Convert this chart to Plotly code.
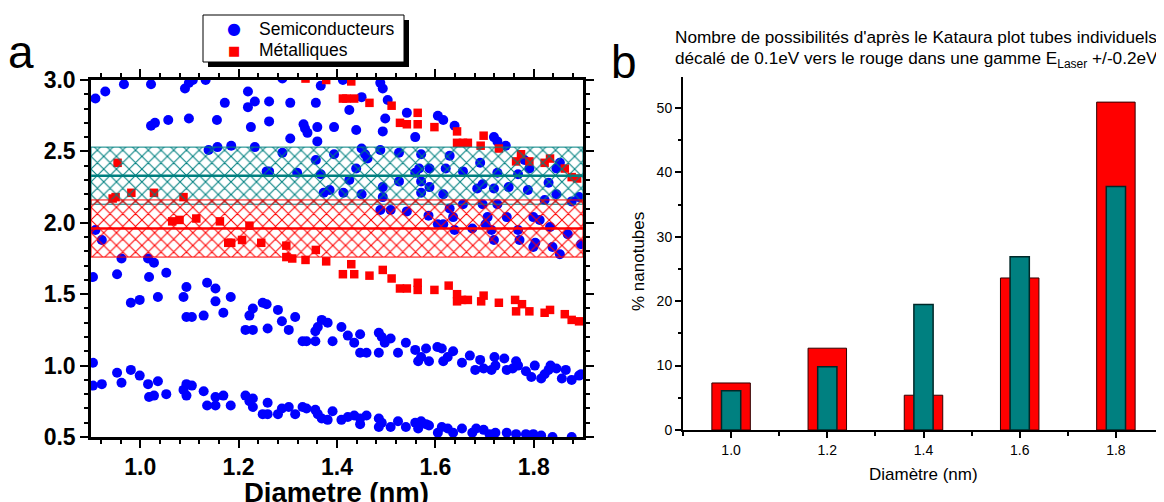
import plotly.graph_objects as go

W, H = 1164, 502
OFF = 8  # page body margin of the html page

# ---------------- Panel a : Kataura plot ----------------
# upper semiconducting transitions (E33/E44 region)
semi_up_d = [0.909,0.929,0.967,1.022,1.091,1.099,1.107,1.133,1.289,1.367,1.412,1.488,1.493,
             1.022,1.030,1.057,1.099,1.156,1.172,1.219,1.219,1.233,1.225,1.262,1.262,1.305,1.305,1.332,1.335,1.340,1.357,1.360,1.360,1.394,1.425,1.439,1.450,1.503,1.498,1.493,1.542,1.559,1.605,1.616,1.639,1.719,1.726,1.743,
             1.139,1.157,1.185,1.233,1.289,1.257,1.262,1.319,1.357,1.367,1.373,1.385,1.394,1.413,1.425,1.439,1.450,1.457,1.462,1.450,1.488,1.493,1.493,1.488,1.509,1.526,1.526,1.542,1.559,1.567,1.571,1.571,1.571,1.588,1.588,1.586,1.605,1.616,1.629,1.621,1.616,1.629,1.636,1.639,1.656,1.656,1.675,1.685,1.691,1.696,1.702,1.706,1.696,1.714,1.719,1.719,1.726,1.726,1.745,1.749,1.768,1.771,1.781,1.788,1.791,1.799,1.803,1.812,1.822,1.833,1.838,1.846,1.846,1.853,1.869,1.877,1.892,1.896,1.830,1.768,1.799,1.853,
             0.909,0.922]
semi_up_E = [2.87,2.92,2.97,2.97,2.94,2.98,3.0,3.0,3.01,2.96,3.0,2.98,2.94,
             2.68,2.70,2.72,2.73,2.72,2.84,2.92,2.81,2.85,2.67,2.85,2.71,2.84,2.59,2.69,2.66,2.63,2.84,2.67,2.57,2.67,2.79,2.65,2.88,2.86,2.73,2.64,2.77,2.60,2.75,2.72,2.68,2.60,2.57,2.54,
             2.51,2.53,2.54,2.53,2.49,2.36,2.36,2.35,2.44,2.34,2.21,2.23,2.48,2.21,2.30,2.38,2.52,2.48,2.45,2.20,2.51,2.25,2.18,2.09,2.09,2.49,2.29,2.08,2.35,2.38,2.29,2.21,2.48,2.38,2.25,2.05,1.99,1.99,2.47,2.38,2.20,2.10,2.04,1.95,2.36,2.13,1.96,2.24,2.42,2.27,1.99,2.04,2.13,1.95,1.88,2.24,2.13,2.35,2.04,2.25,1.95,1.88,2.44,2.23,2.38,2.04,1.86,2.02,2.16,1.97,1.83,2.20,2.38,2.42,1.92,2.15,2.18,1.85,2.28,2.34,1.83,1.78,
             1.95,1.88]

# E22 semiconducting branch
semi_mid_d = [0.904,0.953,0.962,0.981,0.999,1.016,1.018,1.028,1.036,1.053,
              1.088,1.094,1.094,1.105,1.129,1.136,1.153,1.153,1.169,1.184,
              1.214,1.222,1.229,1.229,1.249,1.257,1.259,1.280,1.288,1.302,
              1.315,1.330,1.338,1.356,1.356,1.361,1.369,1.381,1.391,1.409,
              1.422,1.435,1.447,1.447,1.460,1.485,1.485,1.491,1.497,1.509,
              1.524,1.540,1.559,1.565,1.571,1.581,1.587,1.604,1.613,1.616,
              1.625,1.636,1.654,1.670,1.681,1.691,1.698,1.714,1.720,1.722,
              1.740,1.745,1.757,1.764,1.768,1.784,1.795,1.802,1.815,1.822,
              1.830,1.834,1.846,1.857,1.865,1.877,1.892,1.896]
semi_mid_E = [1.62,1.64,1.75,1.44,1.46,1.75,1.62,1.72,1.48,1.65,
              1.48,1.55,1.34,1.34,1.35,1.58,1.54,1.45,1.37,1.48,
              1.25,1.35,1.40,1.25,1.44,1.43,1.26,1.39,1.31,1.25,
              1.34,1.17,1.17,1.24,1.17,1.27,1.32,1.30,1.17,1.27,
              1.21,1.16,1.22,1.09,1.09,1.23,1.09,1.20,1.16,1.19,
              1.09,1.16,1.11,1.03,1.06,1.12,1.03,1.13,1.12,1.03,
              1.06,1.10,1.02,1.07,0.97,1.04,0.98,0.97,1.06,1.00,
              1.05,0.97,0.98,1.03,1.00,0.96,0.92,1.00,0.91,0.94,
              0.97,1.00,0.98,0.91,0.97,0.90,0.93,0.94]

# E11 semiconducting branch
semi_low_d = [0.904,0.904,0.922,0.953,0.962,0.981,0.999,1.016,1.018,1.028,
              1.036,1.053,1.088,1.094,1.094,1.105,1.129,1.136,1.153,1.153,
              1.169,1.184,1.214,1.222,1.229,1.229,1.249,1.259,1.259,1.280,
              1.288,1.302,1.315,1.330,1.338,1.356,1.361,1.369,1.381,1.391,
              1.409,1.422,1.435,1.447,1.447,1.460,1.485,1.485,1.491,1.509,
              1.524,1.540,1.559,1.565,1.571,1.581,1.587,1.605,1.613,1.625,
              1.636,1.654,1.675,1.683,1.698,1.710,1.722,1.745,1.764,1.784,
              1.799,1.815,1.838,1.877]
semi_low_E = [0.86,1.02,0.87,0.95,0.88,0.97,0.93,0.87,0.78,0.79,
              0.89,0.80,0.83,0.87,0.79,0.86,0.82,0.72,0.72,0.78,
              0.79,0.72,0.79,0.75,0.77,0.71,0.66,0.74,0.66,0.66,
              0.70,0.71,0.66,0.71,0.70,0.69,0.66,0.63,0.62,0.68,
              0.62,0.64,0.65,0.63,0.59,0.65,0.63,0.57,0.60,0.57,
              0.61,0.57,0.60,0.56,0.61,0.59,0.58,0.53,0.57,0.56,
              0.53,0.56,0.53,0.56,0.55,0.52,0.53,0.53,0.52,0.52,
              0.52,0.51,0.50,0.50]

# metallic M11 (upper and lower sub-branches)
metal_up_d = [0.954,0.944,0.950,0.982,1.028,1.088,1.065,1.080,1.114,1.162,
              1.179,1.185,1.207,1.222,1.246,1.297,1.357,1.336,1.378,1.429,
              1.412,1.419,1.435,1.466,1.511,1.528,1.542,1.564,1.564,1.598,
              1.644,1.644,1.656,1.666,1.692,1.698,1.729,1.764,1.774,1.791,
              1.822,1.833,1.863,1.877,1.888]
metal_up_E = [2.42,2.17,2.18,2.21,2.21,2.18,2.01,2.02,2.03,2.01,
              1.86,1.86,1.88,1.98,1.86,1.84,1.81,3.01,3.0,2.99,
              2.87,2.87,2.87,2.84,2.82,2.70,2.69,2.77,2.69,2.67,
              2.64,2.56,2.56,2.56,2.54,2.61,2.52,2.43,2.48,2.43,
              2.42,2.45,2.38,2.32,2.31]
metal_low_d = [1.297,1.309,1.336,1.378,1.412,1.429,1.435,1.466,1.493,1.511,
               1.528,1.542,1.564,1.564,1.598,1.627,1.644,1.644,1.654,1.666,
               1.693,1.698,1.729,1.762,1.764,1.776,1.791,1.822,1.833,1.863,
               1.877,1.892]
metal_low_E = [1.76,1.75,1.74,1.73,1.64,1.71,1.64,1.63,1.67,1.61,
               1.54,1.54,1.58,1.53,1.53,1.56,1.50,1.45,1.46,1.46,
               1.45,1.49,1.44,1.46,1.38,1.43,1.38,1.37,1.39,1.36,
               1.32,1.31]

# laser windows (centre energy, eV) and half-width
laser_E = [2.33, 1.96]
window_half = 0.2
diam_range_a = [0.9, 1.9]
energy_range_a = [0.5, 3.0]
legend_names = ["Semiconducteurs", "Métalliques"]

# ---------------- Panel b : bar chart ----------------
diam_b = [1.0, 1.2, 1.4, 1.6, 1.8]
pct_red = [7.3, 12.7, 5.4, 23.6, 50.9]
pct_teal = [6.1, 9.8, 19.5, 26.9, 37.8]
diam_range_b = [0.9, 1.9]
pct_range_b = [0, 54.8]

# ---------------- styling ----------------
FONT = "Liberation Sans, Arial, sans-serif"
BLUE = "#0000FF"
RED = "#FF0000"
TEAL = "#008080"
band_colors = [TEAL, RED]


def px(x):
    return (x - OFF) / W


def py(y):
    return 1 - (y - OFF) / H


fig = go.Figure()

semi_d = semi_up_d + semi_mid_d + semi_low_d
semi_E = semi_up_E + semi_mid_E + semi_low_E
metal_d = metal_up_d + metal_low_d
metal_E = metal_up_E + metal_low_E

fig.add_trace(go.Scatter(x=semi_d, y=semi_E, mode="markers", name=legend_names[0],
                         marker=dict(symbol="circle", size=10, color=BLUE, line=dict(width=0)),
                         xaxis="x", yaxis="y", showlegend=False))
fig.add_trace(go.Scatter(x=metal_d, y=metal_E, mode="markers", name=legend_names[1],
                         marker=dict(symbol="square", size=8.5, color=RED, line=dict(width=0)),
                         xaxis="x", yaxis="y", showlegend=False))

# laser windows drawn on an overlaid subplot so that the hatching lies over the points
x0, x1 = diam_range_a
for E, col in zip(laser_E, band_colors):
    lo, hi = E - window_half, E + window_half
    fig.add_trace(go.Scatter(x=[x0, x1, x1, x0, x0], y=[lo, lo, hi, hi, lo], mode="lines",
                             fill="toself", fillcolor="rgba(0,0,0,0)",
                             fillpattern=dict(shape="x", fgcolor=col, bgcolor="rgba(0,0,0,0)",
                                              fgopacity=1, size=9, solidity=0.22),
                             line=dict(color=col, width=1), showlegend=False,
                             hoverinfo="skip", xaxis="x3", yaxis="y3"))
for E, col in zip(laser_E, band_colors):
    fig.add_trace(go.Scatter(x=[x0, x1], y=[E, E], mode="lines",
                             line=dict(color=col, width=2.5), showlegend=False,
                             hoverinfo="skip", xaxis="x3", yaxis="y3"))

# panel b bars
fig.add_trace(go.Bar(x=diam_b, y=pct_red, width=0.08, marker=dict(color=RED, line=dict(color="#300000", width=1)),
                     showlegend=False, xaxis="x2", yaxis="y2"))
fig.add_trace(go.Bar(x=diam_b, y=pct_teal, width=0.04, marker=dict(color=TEAL, line=dict(color="#002828", width=1.5)),
                     showlegend=False, xaxis="x2", yaxis="y2"))

tick_a = dict(family=FONT, size=23, color="black", weight="bold")
tick_b = dict(family=FONT, size=14, color="black")


def ann(text, x, y, size, xanchor="left", weight="normal", angle=0, family=FONT):
    return dict(text=text, x=px(x), y=py(y), xref="paper", yref="paper", xanchor=xanchor,
                yanchor="middle", showarrow=False, textangle=angle,
                font=dict(family=family, size=size, color="black", weight=weight))


annotations = [
    ann("a", 6, 52, 46),
    ann("b", 609, 62, 46),
    ann("Diametre (nm)", 336, 492, 27.5, xanchor="center", weight="bold"),
    ann("Nombre de possibilités d'après le Kataura plot tubes individuels", 673, 37, 17.2),
    ann("décalé de 0.1eV vers le rouge dans une gamme E<sub>Laser</sub> +/-0.2eV", 673, 59, 17.2),
    ann("Diamètre (nm)", 923, 474, 17, xanchor="center"),
    ann("% nanotubes", 638, 262, 17, xanchor="center", angle=-90),
    # hand-made legend
    ann(legend_names[0], 257, 29, 17.5),
    ann(legend_names[1], 257, 50, 17.5),
]
legend_keys = [
    dict(text="●", x=px(234), y=py(29), xref="paper", yref="paper", xanchor="center", yanchor="middle",
         showarrow=False, font=dict(family="DejaVu Sans", size=16, color=BLUE)),
    dict(text="■", x=px(234), y=py(50), xref="paper", yref="paper", xanchor="center", yanchor="middle",
         showarrow=False, font=dict(family="DejaVu Sans", size=13, color=RED)),
]

fig.update_layout(
    width=W, height=H, autosize=False,
    margin=dict(l=0, r=0, t=0, b=0, autoexpand=False),
    paper_bgcolor="white", plot_bgcolor="white",
    barmode="overlay",
    showlegend=False,
    xaxis=dict(domain=[px(91), px(583)], range=diam_range_a, anchor="y",
               tick0=1.0, dtick=0.2, ticks="outside", ticklen=8, tickwidth=2, tickcolor="black",
               minor=dict(tick0=1.0, dtick=0.04, ticks="outside", ticklen=4.5, tickwidth=2, tickcolor="black"),
               showline=True, linewidth=2.5, linecolor="black", mirror="ticks",
               showgrid=False, zeroline=False, tickfont=tick_a, tickformat=".1f"),
    yaxis=dict(domain=[py(437), py(80)], range=energy_range_a, anchor="x",
               tick0=0.5, dtick=0.5, ticks="outside", ticklen=8, tickwidth=2, tickcolor="black",
               minor=dict(tick0=0.5, dtick=0.1, ticks="outside", ticklen=4.5, tickwidth=2, tickcolor="black"),
               showline=True, linewidth=2.5, linecolor="black", mirror="ticks",
               showgrid=False, zeroline=False, tickfont=tick_a, tickformat=".1f"),
    xaxis3=dict(overlaying="x", range=diam_range_a, anchor="y3", visible=False),
    yaxis3=dict(overlaying="y", range=energy_range_a, anchor="x3", visible=False),
    xaxis2=dict(domain=[px(683), min(1.0, px(1164))], range=diam_range_b, anchor="y2",
                tick0=1.0, dtick=0.2, ticks="outside", ticklen=6, tickwidth=1.5, tickcolor="black",
                minor=dict(tick0=1.0, dtick=0.1, ticks="outside", ticklen=3.5, tickwidth=1.5, tickcolor="black"),
                showline=True, linewidth=2, linecolor="black",
                showgrid=False, zeroline=False, tickfont=tick_b, tickformat=".1f"),
    yaxis2=dict(domain=[py(430), py(77)], range=pct_range_b, anchor="x2",
                tick0=0, dtick=10, ticks="outside", ticklen=6, tickwidth=1.5, tickcolor="black",
                minor=dict(tick0=0, dtick=5, ticks="outside", ticklen=3.5, tickwidth=1.5, tickcolor="black"),
                showline=True, linewidth=2, linecolor="black",
                showgrid=False, zeroline=False, tickfont=tick_b),
    shapes=[
        dict(type="rect", xref="paper", yref="paper", x0=px(208), x1=px(409), y0=py(67), y1=py(20),
             fillcolor="black", line=dict(width=0), layer="above"),
        dict(type="rect", xref="paper", yref="paper", x0=px(203), x1=px(404), y0=py(62), y1=py(15),
             fillcolor="white", line=dict(color="black", width=1), layer="above"),
    ],
    annotations=annotations + legend_keys,
)

fig.write_html("out.html")
